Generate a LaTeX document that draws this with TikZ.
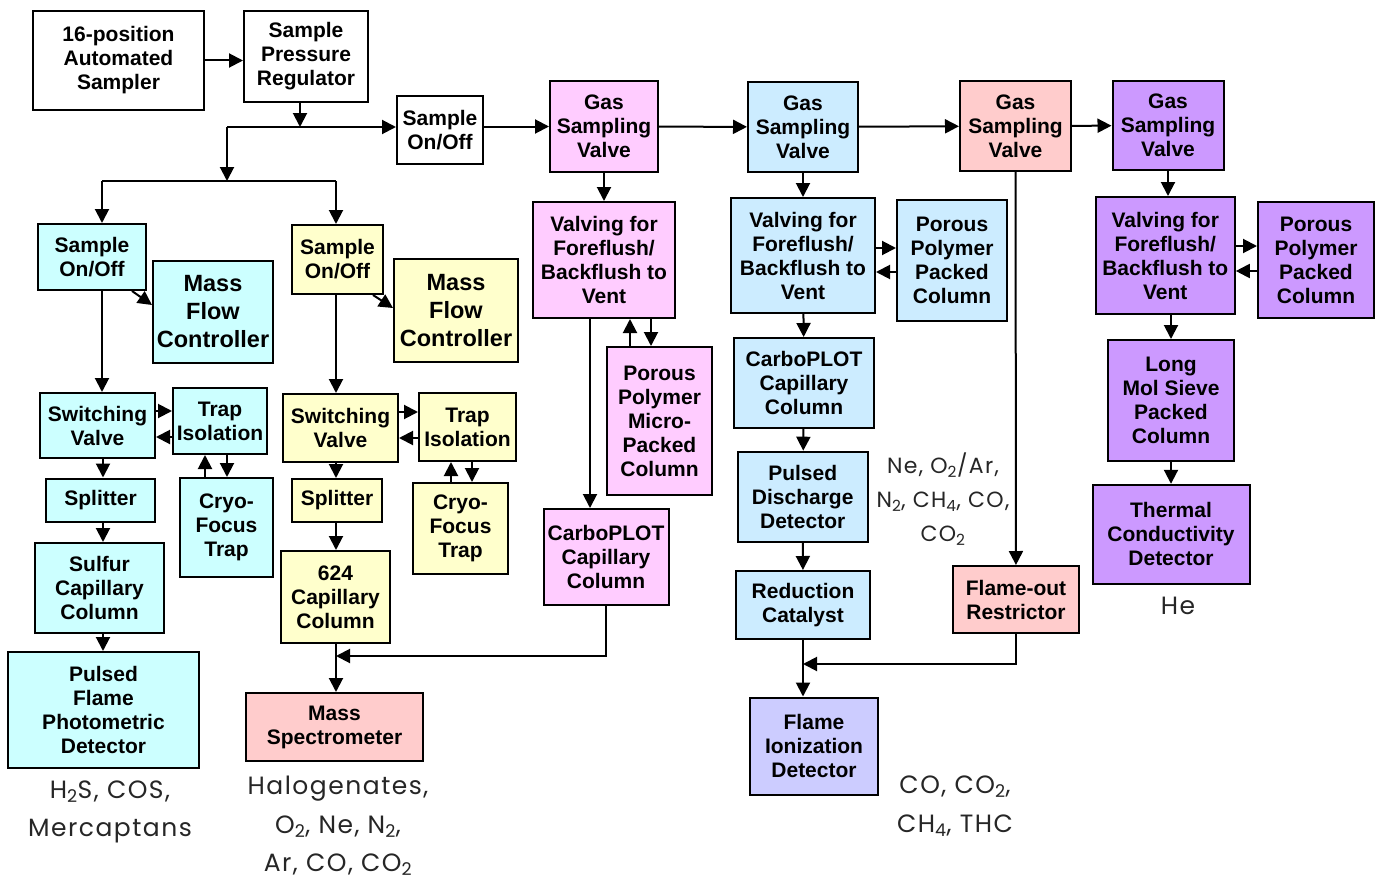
\documentclass[tikz,border=0pt]{standalone}
\usepackage{fontspec}
\setmainfont{Liberation Sans}
\newfontfamily\gothic[LetterSpace=6]{Poppins}
\usetikzlibrary{arrows.meta}
\definecolor{aqua}{HTML}{CCFFFF}
\definecolor{cream}{HTML}{FFFFCC}
\definecolor{rose}{HTML}{FFCCFF}
\definecolor{sky}{HTML}{CCECFF}
\definecolor{salmon}{HTML}{FFCCCC}
\definecolor{lavender}{HTML}{CCCCFF}
\definecolor{grape}{HTML}{CC99FF}
\begin{document}
\begin{tikzpicture}[x=1pt,y=-1pt,
    box/.style={draw,line width=2pt,align=center,inner sep=0pt,
      font=\fontsize{21}{24}\selectfont\bfseries},
    big/.style={font=\fontsize{23.5}{28}\selectfont\bfseries},
    gas/.style={align=center,inner sep=0pt,text=black!85,font=\gothic\fontsize{25}{38.5}\selectfont},
    flow/.style={line width=2pt,-{Triangle[length=14pt,width=14pt]}},
    pipe/.style={line width=2pt,-}]
  \useasboundingbox (0,0) rectangle (1377,875);
  % sampler and regulator
  \node[box,minimum width=171,minimum height=99] (sampler) at (118.5,60.5) {16-position\\Automated\\Sampler};
  \node[box,minimum width=124,minimum height=91] (regulator) at (306,56.5) {Sample\\Pressure\\Regulator};
  \node[box,minimum width=86,minimum height=68] (onoff) at (440,130) {Sample\\On/Off};
  \coordinate (tee) at (300,127);
  \coordinate (fork) at (227,127);
  \coordinate (branch) at (227,181);
  % sulfur channel
  \node[box,fill=aqua,minimum width=108,minimum height=66] (onoffA) at (92,257) {Sample\\On/Off};
  \node[box,big,fill=aqua,minimum width=120,minimum height=102] (mfcA) at (213,312) {Mass\\Flow\\Controller};
  \node[box,fill=aqua,minimum width=115,minimum height=65] (switchA) at (97.5,425.5) {Switching\\Valve};
  \node[box,fill=aqua,minimum width=94,minimum height=66] (trapA) at (220,421) {Trap\\Isolation};
  \node[box,fill=aqua,minimum width=93,minimum height=99] (cryoA) at (226.5,527.5) {Cryo-\\Focus\\Trap};
  \node[box,fill=aqua,minimum width=109,minimum height=43] (splitA) at (100.5,500) {Splitter};
  \node[box,fill=aqua,minimum width=129,minimum height=90] (sulfur) at (99.5,588) {Sulfur\\Capillary\\Column};
  \node[box,fill=aqua,minimum width=191,minimum height=116] (pfpd) at (103.5,710) {Pulsed\\Flame\\Photometric\\Detector};
  % mass spectrometer channel
  \node[box,fill=cream,minimum width=91,minimum height=69] (onoffB) at (337.5,259.5) {Sample\\On/Off};
  \node[box,big,fill=cream,minimum width=124,minimum height=103] (mfcB) at (456,310.5) {Mass\\Flow\\Controller};
  \node[box,fill=cream,minimum width=115,minimum height=68] (switchB) at (340.5,428) {Switching\\Valve};
  \node[box,fill=cream,minimum width=97,minimum height=68] (trapB) at (467.5,427) {Trap\\Isolation};
  \node[box,fill=cream,minimum width=95,minimum height=91] (cryoB) at (460.5,528.5) {Cryo-\\Focus\\Trap};
  \node[box,fill=cream,minimum width=90,minimum height=43] (splitB) at (337,500.5) {Splitter};
  \node[box,fill=cream,minimum width=109,minimum height=92] (col624) at (335.5,597) {624\\Capillary\\Column};
  \node[box,fill=salmon,minimum width=177,minimum height=68] (ms) at (334.5,727) {Mass\\Spectrometer};
  % first gas sampling valve
  \node[box,fill=rose,minimum width=108,minimum height=91] (gsvA) at (604,126.5) {Gas\\Sampling\\Valve};
  \node[box,fill=rose,minimum width=142,minimum height=116] (valveA) at (604,260) {Valving for\\Foreflush/\\Backflush to\\Vent};
  \node[box,fill=rose,minimum width=105,minimum height=148] (porousA) at (659.5,421) {Porous\\Polymer\\Micro-\\Packed\\Column};
  \node[box,fill=rose,minimum width=125,minimum height=96] (carboA) at (606,557) {CarboPLOT\\Capillary\\Column};
  % second gas sampling valve
  \node[box,fill=sky,minimum width=110,minimum height=90] (gsvB) at (803,127) {Gas\\Sampling\\Valve};
  \node[box,fill=sky,minimum width=144,minimum height=115] (valveB) at (803,255.5) {Valving for\\Foreflush/\\Backflush to\\Vent};
  \node[box,fill=sky,minimum width=110,minimum height=121] (porousB) at (952,260.5) {Porous\\Polymer\\Packed\\Column};
  \node[box,fill=sky,minimum width=140,minimum height=90] (carboB) at (804,383) {CarboPLOT\\Capillary\\Column};
  \node[box,fill=sky,minimum width=130,minimum height=90] (pdd) at (802.7,496.7) {Pulsed\\Discharge\\Detector};
  \node[box,fill=sky,minimum width=134,minimum height=68] (reduct) at (803,605) {Reduction\\Catalyst};
  \node[box,fill=lavender,minimum width=128,minimum height=97] (fid) at (814,746) {Flame\\Ionization\\Detector};
  % third gas sampling valve
  \node[box,fill=salmon,minimum width=111,minimum height=90] (gsvC) at (1015.5,126) {Gas\\Sampling\\Valve};
  \node[box,fill=salmon,minimum width=126,minimum height=67] (flameout) at (1016,599.5) {Flame-out\\Restrictor};
  % fourth gas sampling valve
  \node[box,fill=grape,minimum width=111,minimum height=89] (gsvD) at (1168,125.5) {Gas\\Sampling\\Valve};
  \node[box,fill=grape,minimum width=139,minimum height=117] (valveD) at (1165.3,255.5) {Valving for\\Foreflush/\\Backflush to\\Vent};
  \node[box,fill=grape,minimum width=116,minimum height=116] (porousD) at (1316,260) {Porous\\Polymer\\Packed\\Column};
  \node[box,fill=grape,minimum width=126,minimum height=121] (molsieve) at (1171,400.5) {Long\\Mol Sieve\\Packed\\Column};
  \node[box,fill=grape,minimum width=157,minimum height=99] (tcd) at (1171,534.3) {Thermal\\Conductivity\\Detector};
  % analytes
  \node[gas] (gasA) at (110,812) {H\textsubscript{2}S, COS,\\Mercaptans};
  \node[gas] (gasB) at (338,826) {Halogenates,\\O\textsubscript{2}, Ne, N\textsubscript{2},\\Ar, CO, CO\textsubscript{2}};
  \node[gas,font=\gothic\fontsize{22}{34}\selectfont] (gasC) at (943,499) {Ne, O\textsubscript{2}/Ar,\\N\textsubscript{2}, CH\textsubscript{4}, CO,\\CO\textsubscript{2}};
  \node[gas] (gasD) at (955,806) {CO, CO\textsubscript{2},\\CH\textsubscript{4}, THC};
  \node[gas] (gasE) at (1178,606) {He};
  % connectors
  \begin{scope}[flow]
    \draw (sampler) -- (sampler -| regulator.west);
    \draw (tee |- regulator.south) -- (tee);
    \draw[pipe] (fork) -- (tee);
    \draw (tee) -- (onoff.west |- tee);
    \draw (fork) -- (branch);
    \draw[pipe] (102,181) -- (336,181);
    \draw (102,181) -- (102,0 |- onoffA.north);
    \draw (336,181) -- (336,0 |- onoffB.north);
    \draw (onoff.east |- gsvA) -- (gsvA.west);
    \draw (gsvA) -- (gsvB);
    \draw (gsvB) -- (gsvC);
    \draw (gsvC) -- (gsvD);
    % sulfur channel
    \draw (132,0 |- onoffA.south) -- (mfcA.west |- 0,305);
    \draw (102,0 |- onoffA.south) -- (102,0 |- switchA.north);
    \draw (switchA.east |- 0,411) -- (trapA.west |- 0,411);
    \draw (trapA.west |- 0,437) -- (switchA.east |- 0,437);
    \draw (205,0 |- cryoA.north) -- (205,0 |- trapA.south);
    \draw (227,0 |- trapA.south) -- (227,0 |- cryoA.north);
    \draw (103,0 |- switchA.south) -- (103,0 |- splitA.north);
    \draw (103,0 |- splitA.south) -- (103,0 |- sulfur.north);
    \draw (103,0 |- sulfur.south) -- (103,0 |- pfpd.north);
    % mass spectrometer channel
    \draw (373,0 |- onoffB.south) -- (mfcB.west |- 0,308);
    \draw (336,0 |- onoffB.south) -- (336,0 |- switchB.north);
    \draw (switchB.east |- 0,412) -- (trapB.west |- 0,412);
    \draw (trapB.west |- 0,438) -- (switchB.east |- 0,438);
    \draw (451,0 |- cryoB.north) -- (451,0 |- trapB.south);
    \draw (472,0 |- trapB.south) -- (472,0 |- cryoB.north);
    \draw (336,0 |- switchB.south) -- (336,0 |- splitB.north);
    \draw (336,0 |- splitB.south) -- (336,0 |- col624.north);
    \draw (336,0 |- col624.south) -- (336,0 |- ms.north);
    % first gas sampling valve
    \draw (gsvA) -- (valveA);
    \draw (630,0 |- porousA.north) -- (630,0 |- valveA.south);
    \draw (651,0 |- valveA.south) -- (651,0 |- porousA.north);
    \draw (590,0 |- valveA.south) -- (590,0 |- carboA.north);
    \draw (carboA.south) -- (carboA.south |- 0,656) -- (336,656);
    % second gas sampling valve
    \draw (gsvB) -- (valveB);
    \draw (valveB.east |- 0,248) -- (porousB.west |- 0,248);
    \draw (porousB.west |- 0,272) -- (valveB.east |- 0,272);
    \draw (valveB) -- (carboB);
    \draw (carboB) -- (pdd);
    \draw (pdd) -- (reduct);
    \draw (reduct.south) -- (reduct.south |- fid.north);
    % third gas sampling valve
    \draw (gsvC) -- (flameout);
    \draw (flameout.south) -- (flameout.south |- 0,664) -- (reduct.south |- 0,664);
    % fourth gas sampling valve
    \draw (gsvD.south) -- (gsvD.south |- valveD.north);
    \draw (valveD.east |- 0,246) -- (porousD.west |- 0,246);
    \draw (porousD.west |- 0,271) -- (valveD.east |- 0,271);
    \draw (molsieve.north |- valveD.south) -- (molsieve.north);
    \draw (molsieve) -- (tcd);
  \end{scope}
\end{tikzpicture}
\end{document}
